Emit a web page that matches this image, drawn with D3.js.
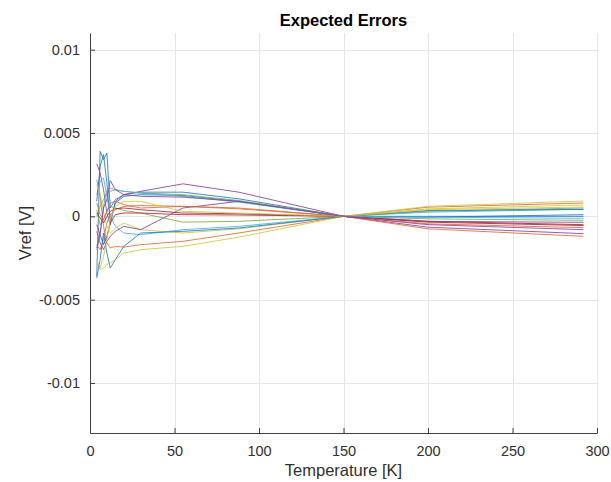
<!DOCTYPE html>
<html>
<head>
<meta charset="utf-8">
<script src="https://cdn.jsdelivr.net/npm/d3@7"></script>
<style>
  body { margin: 0; background: #fff; }
  svg { display: block; }
  text { font-family: "Liberation Sans", Arial, Helvetica, sans-serif; }
</style>
</head>
<body>
<svg id="chart" width="611" height="482"></svg>
<script>
// Sample temperatures [K] shared by every run
const temperatures = [4, 6, 8, 10, 12, 15, 20, 30, 55, 88, 150, 200, 292];

// Expected Vref error [V] of each run, one value per temperature
const run01 = [-0.0036, 0.0039, 0.0034, 0.0038, 0.0005, 0.0010, 0.0013, 0.00145, 0.00145, 0.00105, 0, -0.00005, 0.0001];
const run02 = [0.0022, 0.0012, -0.0006, -0.0016, -0.0019, -0.0018, -0.00185, -0.0017, -0.0015, -0.0010, 0, 0.00055, 0.0008];
const run03 = [-0.0026, -0.0032, -0.0031, -0.0029, -0.0028, -0.0026, -0.0022, -0.0020, -0.0018, -0.00125, 0, 0.0006, 0.00092];
const run04 = [0.00315, 0.0026, 0.0016, 0.0002, -0.0005, 0.0009, 0.0013, 0.0015, 0.00195, 0.00145, 0, -0.00065, -0.00104];
const run05 = [0.0004, -0.0005, -0.0002, 0.0003, 0.0006, 0.0005, 0.00035, 0.0002, -0.00035, -0.0003, 0, 0.0003, 0.0005];
const run06 = [0.0013, 0.0021, 0.0023, 0.0012, 0.0000, -0.0006, -0.0010, -0.0011, -0.0008, -0.0006, 0, 0.00025, 0.00042];
const run07 = [-0.0005, -0.0011, -0.0017, -0.0012, -0.0004, 0.0001, 0.0002, 0.0002, 0.0001, 0.00008, 0, -0.0003, -0.0005];
const run08 = [0.0009, 0.0030, 0.0037, 0.0020, -0.0003, 0.0008, 0.0012, 0.0013, 0.00125, 0.0009, 0, 0.0000, 0.0000];
const run09 = [-0.0017, -0.0020, -0.0014, -0.0004, 0.0001, 0.0004, 0.0006, 0.00065, 0.0006, 0.00045, 0, -0.00075, -0.0012];
const run10 = [0.0019, 0.0014, 0.0003, -0.0006, -0.0010, -0.0007, -0.0004, -0.0008, -0.0010, -0.00075, 0, 0.00045, 0.00068];
const run11 = [-0.0009, -0.0016, -0.0020, -0.0015, -0.0012, -0.0009, -0.0006, -0.0008, 0.0005, 0.0009, 0, -0.0003, -0.00036];
const run12 = [0.0000, 0.0006, 0.0010, 0.0014, 0.0015, 0.0016, 0.0015, 0.0014, 0.0013, 0.00095, 0, -0.00015, -0.00024];
const run13 = [-0.0020, -0.0012, 0.0006, 0.0016, 0.0017, 0.0016, 0.0015, 0.0014, 0.0012, 0.00085, 0, -0.00005, -0.00012];
const run14 = [0.0002, -0.0001, -0.0004, 0.0000, 0.0003, 0.00045, 0.0005, 0.0004, 0.0002, 0.00015, 0, -0.00035, -0.00055];
const run15 = [-0.0037, -0.0026, -0.0010, -0.0022, -0.0031, -0.0026, -0.0018, -0.0010, -0.0009, -0.0007, 0, 0.00035, 0.00042];
const run16 = [0.0008, 0.0001, -0.0002, 0.0003, 0.0008, 0.0009, 0.0007, 0.0005, 0.0006, 0.0005, 0, -0.00045, -0.00068];
const run17 = [-0.0032, -0.0031, -0.0024, -0.0014, -0.0002, 0.0006, 0.0009, 0.0009, 0.0003, 0.0002, 0, 0.0004, 0.00056];
const run18 = [-0.0019, -0.0010, 0.0005, 0.0010, 0.00215, 0.0016, 0.0013, 0.0012, 0.00115, 0.0009, 0, -0.0005, -0.0008];

const runs = [run01, run02, run03, run04, run05, run06, run07, run08, run09,
              run10, run11, run12, run13, run14, run15, run16, run17, run18];

// Axis ticks
const xTicks = [0, 50, 100, 150, 200, 250, 300];
const yTicks = [-0.01, -0.005, 0, 0.005, 0.01];
const yTickLabels = ["-0.01", "-0.005", "0", "0.005", "0.01"];

// Line colour order
const lineColors = ["#1f78c4", "#dd6a35", "#cdc83a", "#8a3f9c", "#7aae3a", "#4aaee6", "#a8243a"];

const svg = d3.select("#chart");
const plotLeft = 90, plotRight = 597, plotTop = 33, plotBottom = 433;

const x = d3.scaleLinear().domain([0, 300]).range([plotLeft, plotRight]);
const y = d3.scaleLinear().domain([-0.013, 0.011]).range([plotBottom, plotTop]);

// Grid
const grid = svg.append("g").attr("stroke", "#e6e6e6").attr("stroke-width", 1);
grid.selectAll("line.gx").data(xTicks).join("line")
  .attr("class", "gx")
  .attr("x1", d => Math.round(x(d)) + 0.5).attr("x2", d => Math.round(x(d)) + 0.5)
  .attr("y1", plotTop).attr("y2", plotBottom);
grid.selectAll("line.gy").data(yTicks).join("line")
  .attr("class", "gy")
  .attr("x1", plotLeft).attr("x2", plotRight)
  .attr("y1", d => Math.round(y(d)) + 0.5).attr("y2", d => Math.round(y(d)) + 0.5);

// Runs
const line = d3.line()
  .x((d, i) => x(temperatures[i]))
  .y(d => y(d));

svg.append("g").selectAll("path").data(runs).join("path")
  .attr("fill", "none")
  .attr("stroke", (d, i) => lineColors[i % lineColors.length])
  .attr("stroke-width", 0.85)
  .attr("stroke-linejoin", "round")
  .attr("d", line);

// Axes with inward ticks
const xAxis = d3.axisBottom(x).tickValues(xTicks).tickFormat(d3.format("d"))
  .tickSizeInner(-5).tickSizeOuter(0).tickPadding(13);
const yAxis = d3.axisLeft(y).tickValues(yTicks).tickFormat((d, i) => yTickLabels[i])
  .tickSizeInner(-5).tickSizeOuter(0).tickPadding(10);

const gx = svg.append("g").attr("transform", `translate(0,${plotBottom})`).call(xAxis);
const gy = svg.append("g").attr("transform", `translate(${plotLeft},0)`).call(yAxis);

[gx, gy].forEach(g => {
  g.select(".domain").attr("stroke", "#404040").attr("stroke-width", 1);
  g.selectAll(".tick line").attr("stroke", "#404040");
  g.selectAll(".tick text").attr("fill", "#303030").style("font-size", "14.5px")
    .style("font-family", "'Liberation Sans', Arial, Helvetica, sans-serif");
});

// Title and axis labels
svg.append("text")
  .attr("x", (plotLeft + plotRight) / 2).attr("y", 26)
  .attr("text-anchor", "middle")
  .style("font-size", "16.5px").style("font-weight", "bold").attr("fill", "#000")
  .text("Expected Errors");

svg.append("text")
  .attr("x", (plotLeft + plotRight) / 2).attr("y", 476)
  .attr("text-anchor", "middle")
  .style("font-size", "16.5px").attr("fill", "#303030")
  .text("Temperature [K]");

svg.append("text")
  .attr("transform", `translate(31,${(plotTop + plotBottom) / 2}) rotate(-90)`)
  .attr("text-anchor", "middle")
  .style("font-size", "16.5px").attr("fill", "#303030")
  .text("Vref [V]");
</script>
</body>
</html>
